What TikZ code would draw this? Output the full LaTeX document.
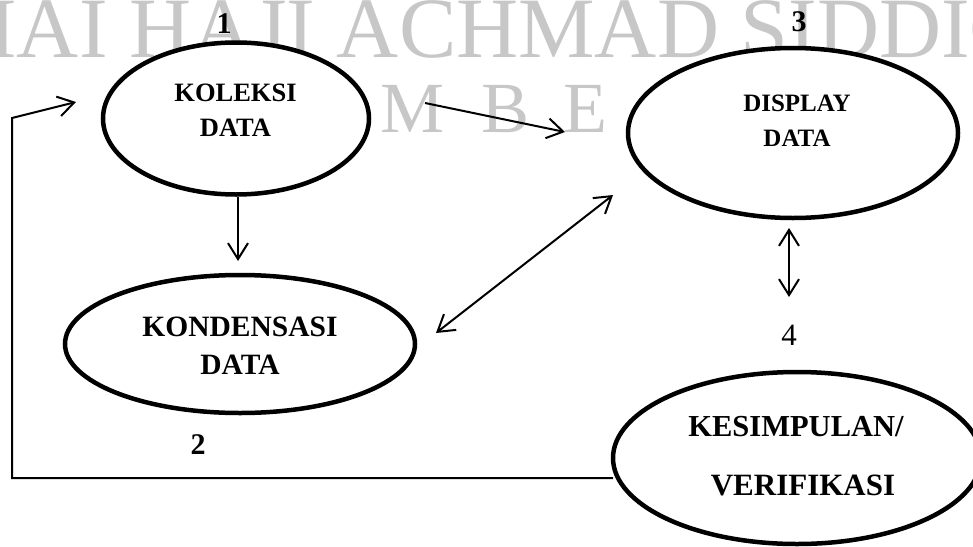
\documentclass[tikz,border=0pt]{standalone}
\usepackage{fontspec}
\setmainfont{Liberation Serif}
\usetikzlibrary{shapes.geometric,arrows.meta}
\begin{document}
\begin{tikzpicture}[x=1pt,y=-1pt,
  bub/.style={ellipse,draw=black,fill=white,line width=4.5pt,inner sep=0pt},
  lbl/.style={align=center,inner sep=0pt},
  num/.style={font=\bfseries\fontsize{30}{30}\selectfont,inner sep=0pt},
  arr/.style={line width=2pt,-{Straight Barb[length=16pt,width=20pt]}},
  darr/.style={line width=2pt,{Straight Barb[length=16pt,width=20pt]}-{Straight Barb[length=16pt,width=20pt]}},
  wm/.style={text=black!22,inner sep=0pt}]
\clip (0,0) rectangle (973,546);
\useasboundingbox (0,0) rectangle (973,546);
% watermark
\node[wm,anchor=base west,font=\fontsize{86}{86}\selectfont] (wm1) at (-74,57) {KIAI HAJI ACHMAD SIDDIQ};
\node[wm,anchor=base,font=\fontsize{72}{72}\selectfont] (wmM) at (413,132) {M};
\node[wm,anchor=base,font=\fontsize{72}{72}\selectfont] (wmB) at (506,132) {B};
\node[wm,anchor=base,font=\fontsize{72}{72}\selectfont] (wmE) at (585,132) {E};
% ellipses
\node[bub,minimum width=266,minimum height=152] (e1) at (236,118.5) {};
\node[bub,minimum width=350,minimum height=138] (e2) at (240,344) {};
\node[bub,minimum width=330,minimum height=170] (e3) at (793,133) {};
\node[bub,minimum width=368,minimum height=172] (e4) at (797,458) {};
% labels
\node[lbl,font=\bfseries\fontsize{26.5}{35}\selectfont] (t1) at (235.5,110.5) {KOLEKSI\\DATA};
\node[lbl,font=\bfseries\fontsize{29.5}{38}\selectfont] (t2) at (240,346) {KONDENSASI\\DATA};
\node[lbl,font=\bfseries\fontsize{25}{35}\selectfont] (t3) at (797,120.5) {DISPLAY\\DATA};
\node[lbl,font=\bfseries\fontsize{30.5}{58}\selectfont] (t4a) at (796,427) {KESIMPULAN/};
\node[lbl,font=\bfseries\fontsize{31}{58}\selectfont] (t4b) at (803,485) {VERIFIKASI};
\node[num] (n1) at (224,24) {1};
\node[num] (n3) at (799,22) {3};
\node[num] (n2) at (198,445) {2};
\node[inner sep=0pt,font=\fontsize{31}{31}\selectfont] (n4) at (789,335) {4};
% connectors
\coordinate (a13s) at (425,103);
\coordinate (a13e) at (565,132);
\coordinate (a12s) at (238,197);
\coordinate (a12e) at (238,261);
\coordinate (a23s) at (436,333);
\coordinate (a23e) at (613,195);
\coordinate (a34s) at (789,228);
\coordinate (a34e) at (789,297);
\coordinate (fbs) at (613,478);
\coordinate (fb1) at (12,478);
\coordinate (fb2) at (12,118);
\coordinate (fbe) at (76,102);
\draw[arr] (a13s) -- (a13e);
\draw[arr] (a12s) -- (a12e);
\draw[darr] (a23s) -- (a23e);
\draw[darr] (a34s) -- (a34e);
\draw[arr] (fbs) -- (fb1) -- (fb2) -- (fbe);
\end{tikzpicture}
\end{document}
